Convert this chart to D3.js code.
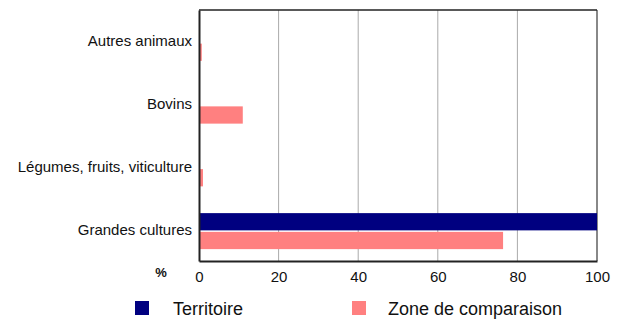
<!DOCTYPE html>
<html>
<head>
  <meta charset="utf-8">
  <script src="https://d3js.org/d3.v7.min.js"></script>
  <style>
    body { margin: 0; background: #fff; }
    text { font-family: Arial, "Liberation Sans", sans-serif; fill: #111; }
  </style>
</head>
<body>
<svg id="chart" width="620" height="319"></svg>
<script>
  // data
  var categories = ['Autres animaux', 'Bovins', 'Légumes, fruits, viticulture', 'Grandes cultures'];
  var seriesNames = ['Territoire', 'Zone de comparaison'];
  var territoire = [0, 0, 0, 100];
  var comparaison = [0.7, 11, 1, 76.4];
  var ticks = [0, 20, 40, 60, 80, 100];
  var colors = ['#000080', '#ff8080'];

  var margin = { top: 10, left: 199, right: 23, bottom: 58 };
  var svg = d3.select('#chart');
  var width = +svg.attr('width') - margin.left - margin.right;
  var height = +svg.attr('height') - margin.top - margin.bottom;

  var x = d3.scaleLinear().domain([0, 100]).range([margin.left, margin.left + width]);
  var y = d3.scaleBand().domain(categories)
            .range([margin.top, margin.top + height]);
  var inner = d3.scaleBand().domain(seriesNames)
                .range([0, 36]).paddingInner(0.08);

  // grid lines
  svg.append('g').selectAll('line')
    .data(ticks.slice(1))
    .enter().append('line')
    .attr('x1', function(d) { return x(d); })
    .attr('x2', function(d) { return x(d); })
    .attr('y1', margin.top)
    .attr('y2', margin.top + height)
    .attr('stroke', function(d) { return d === 100 ? '#888' : '#aaa'; })
    .attr('stroke-width', function(d) { return d === 100 ? 2 : 1; });

  // bars
  var rows = categories.map(function(c, i) {
    return { cat: c, values: [territoire[i], comparaison[i]] };
  });
  var groups = svg.append('g').selectAll('g')
    .data(rows)
    .enter().append('g')
    .attr('transform', function(d) {
      return 'translate(0,' + (y(d.cat) + y.bandwidth() / 2 - 16.5) + ')';
    });
  groups.selectAll('rect')
    .data(function(d) { return d.values.map(function(v, j) { return { s: seriesNames[j], v: v, j: j }; }); })
    .enter().append('rect')
    .attr('x', x(0))
    .attr('y', function(d) { return inner(d.s); })
    .attr('width', function(d) { return x(d.v) - x(0); })
    .attr('height', inner.bandwidth())
    .attr('fill', function(d) { return colors[d.j]; });

  // frame
  svg.append('line')
    .attr('x1', x(0)).attr('x2', x(100))
    .attr('y1', margin.top).attr('y2', margin.top)
    .attr('stroke', '#222').attr('stroke-width', 1.5);

  // axes
  var xAxis = svg.append('g')
    .attr('transform', 'translate(0,' + (margin.top + height) + ')')
    .call(d3.axisBottom(x).tickValues(ticks).tickSize(0).tickPadding(10));
  xAxis.select('.domain').attr('stroke', '#222').attr('stroke-width', 2);
  xAxis.selectAll('text').style('font-size', '15px');

  var yAxis = svg.append('g')
    .attr('transform', 'translate(' + x(0) + ',0)')
    .call(d3.axisLeft(y).tickSize(0).tickPadding(7));
  yAxis.select('.domain').attr('stroke', '#222').attr('stroke-width', 2);
  yAxis.selectAll('text').style('font-size', '15px')
    .attr('dy', '0.33em');

  svg.append('text')
    .attr('x', 161).attr('y', 277)
    .attr('text-anchor', 'middle')
    .style('font-size', '13px').style('font-weight', 'bold')
    .text('%');

  // legend
  var legendX = [135, 352];
  var legend = svg.append('g').selectAll('g')
    .data(seriesNames)
    .enter().append('g')
    .attr('transform', function(d, i) { return 'translate(' + legendX[i] + ',301)'; });
  legend.append('rect')
    .attr('width', 14).attr('height', 14)
    .attr('fill', function(d, i) { return colors[i]; });
  legend.append('text')
    .attr('x', function(d, i) { return i === 0 ? 38 : 36; })
    .attr('y', 14)
    .style('font-size', '18px')
    .text(function(d) { return d; });
</script>
</body>
</html>
